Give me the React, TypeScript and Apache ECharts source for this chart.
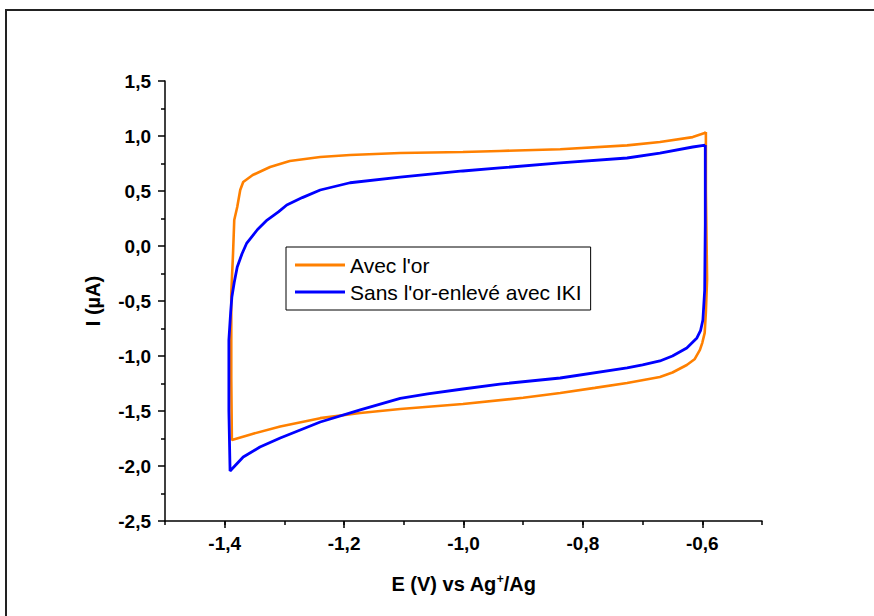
import React, { useEffect, useRef } from "react";
import * as echarts from "echarts";

// Cyclic voltammograms, E (V) vs Ag+/Ag and I (µA)
const seriesNames = ["Avec l'or", "Sans l'or-enlevé avec IKI"];

const orangeE = [-0.594, -0.594, -0.592, -0.594, -0.596, -0.600, -0.604, -0.613, -0.626, -0.650, -0.671, -0.726, -0.780, -0.838, -0.900, -1.001, -1.106, -1.173, -1.240, -1.307, -1.358, -1.388, -1.389, -1.389, -1.386, -1.384, -1.379, -1.374, -1.369, -1.353, -1.324, -1.291, -1.240, -1.190, -1.106, -1.001, -0.939, -0.838, -0.726, -0.671, -0.616, -0.596, -0.594];
const orangeI = [1.036, 0.5, -0.3, -0.6, -0.79, -0.88, -0.945, -1.03, -1.082, -1.15, -1.191, -1.245, -1.29, -1.336, -1.38, -1.436, -1.482, -1.518, -1.565, -1.64, -1.715, -1.764, -1.2, -0.43, -0.064, 0.236, 0.355, 0.509, 0.582, 0.645, 0.718, 0.773, 0.809, 0.827, 0.845, 0.855, 0.864, 0.88, 0.915, 0.945, 0.99, 1.027, 1.036];

const blueE = [-0.595, -0.595, -0.596, -0.599, -0.603, -0.609, -0.626, -0.650, -0.671, -0.700, -0.726, -0.838, -0.939, -1.001, -1.060, -1.106, -1.173, -1.240, -1.307, -1.341, -1.369, -1.391, -1.393, -1.393, -1.390, -1.388, -1.384, -1.379, -1.371, -1.363, -1.345, -1.329, -1.310, -1.296, -1.270, -1.240, -1.190, -1.106, -1.001, -0.939, -0.838, -0.726, -0.671, -0.616, -0.595];
const blueI = [0.918, 0.2, -0.4, -0.673, -0.77, -0.836, -0.927, -1.0, -1.045, -1.08, -1.109, -1.2, -1.255, -1.30, -1.345, -1.385, -1.49, -1.60, -1.745, -1.827, -1.918, -2.045, -1.5, -0.855, -0.6, -0.464, -0.33, -0.191, -0.07, 0.027, 0.15, 0.236, 0.31, 0.373, 0.44, 0.509, 0.575, 0.627, 0.682, 0.71, 0.755, 0.8, 0.845, 0.9, 0.918];

const xTickLabels = [-1.4, -1.2, -1.0, -0.8, -0.6];

const zip = (xs: number[], ys: number[]) => xs.map((x, i) => [x, ys[i]]);
const fmt = (v: number) => v.toFixed(1).replace(".", ",");

const FONT = "'Liberation Sans', Arial, sans-serif";

export default function App() {
  const ref = useRef<HTMLDivElement>(null);
  useEffect(() => {
    if (!ref.current) return;
    const chart = echarts.init(ref.current, null, { renderer: "svg" });
    const black = "#000";
    chart.setOption({
      animation: false,
      backgroundColor: "#fff",
      textStyle: { fontFamily: FONT },
      graphic: [
        {
          type: "polyline",
          shape: { points: [[6, 616], [6, 10], [874, 10]] },
          style: { stroke: "#222", lineWidth: 2, fill: "none" },
          silent: true,
        },
      ],
      grid: { left: 165, right: 112, top: 81, bottom: 95 },
      legend: {
        data: seriesNames,
        orient: "vertical",
        left: 286,
        top: 247,
        padding: [6, 9, 6, 9],
        itemGap: 3,
        itemWidth: 50,
        itemHeight: 3,
        icon: "rect",
        borderColor: black,
        borderWidth: 1,
        selectedMode: false,
        textStyle: { fontFamily: FONT, fontSize: 21, color: black, lineHeight: 24 },
      },
      xAxis: [
        {
          type: "value",
          min: -1.5,
          max: -0.5,
          interval: 0.1,
          position: "bottom",
          axisLine: { onZero: false, lineStyle: { color: black, width: 1.5 } },
          axisTick: { length: 4, lineStyle: { color: black, width: 1.5 } },
          axisLabel: { show: false },
          splitLine: { show: false },
        },
        {
          type: "value",
          min: -1.5,
          max: -0.5,
          position: "bottom",
          axisLine: { show: false, onZero: false },
          axisTick: { customValues: xTickLabels, length: 7, lineStyle: { color: black, width: 1.5 } },
          axisLabel: {
            customValues: xTickLabels,
            formatter: (v: number) => fmt(v),
            fontFamily: FONT,
            fontWeight: "bold",
            fontSize: 19,
            color: black,
            margin: 13,
          },
          splitLine: { show: false },
          name: "E (V) vs Ag{sup|+}/Ag",
          nameLocation: "middle",
          nameGap: 52,
          nameTextStyle: {
            fontFamily: FONT,
            fontWeight: "bold",
            fontSize: 20,
            color: black,
            rich: {
              sup: { fontFamily: FONT, fontWeight: "bold", fontSize: 12, verticalAlign: "top", padding: [0, 0, 10, 0], color: black },
            },
          },
        },
      ],
      yAxis: {
        type: "value",
        min: -2.5,
        max: 1.5,
        interval: 0.5,
        axisLine: { show: true, onZero: false, lineStyle: { color: black, width: 1.5 } },
        axisTick: { show: true, length: 7, lineStyle: { color: black, width: 1.5 } },
        minorTick: { show: true, splitNumber: 2, length: 4, lineStyle: { color: black, width: 1.5 } },
        axisLabel: {
          formatter: (v: number) => fmt(v),
          fontFamily: FONT,
          fontWeight: "bold",
          fontSize: 19,
          color: black,
          margin: 14,
        },
        splitLine: { show: false },
        name: "I (µA)",
        nameLocation: "middle",
        nameGap: 62,
        nameTextStyle: { fontFamily: FONT, fontWeight: "bold", fontSize: 20, color: black },
      },
      series: [
        {
          name: seriesNames[0],
          type: "line",
          xAxisIndex: 0,
          data: zip(orangeE, orangeI),
          showSymbol: false,
          symbol: "none",
          lineStyle: { color: "#FF8000", width: 2.6 },
          itemStyle: { color: "#FF8000" },
        },
        {
          name: seriesNames[1],
          type: "line",
          xAxisIndex: 0,
          data: zip(blueE, blueI),
          showSymbol: false,
          symbol: "none",
          lineStyle: { color: "#0000FF", width: 2.8 },
          itemStyle: { color: "#0000FF" },
        },
      ],
    });
    return () => chart.dispose();
  }, []);
  return (
    <div
      ref={ref}
      style={{ position: "fixed", left: 0, top: 0, width: 874, height: 616, background: "#fff" }}
    />
  );
}
